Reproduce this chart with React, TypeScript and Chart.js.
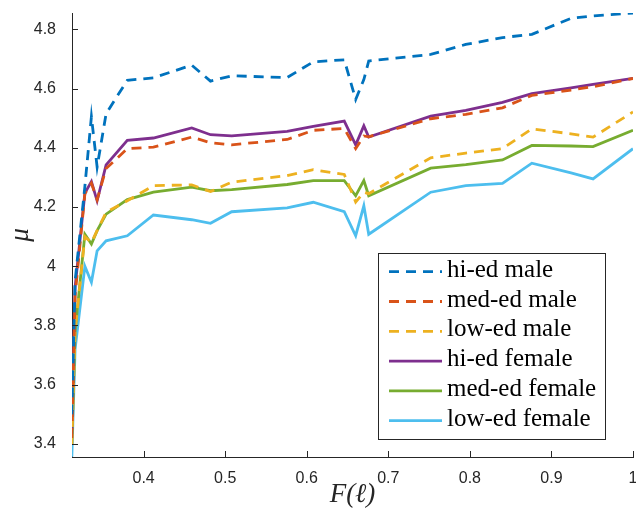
import React, { useEffect, useRef } from "react";
import { Chart, registerables } from "chart.js";

Chart.register(...registerables);

// x positions F(l)
const xValues = [0.312, 0.316, 0.328, 0.336, 0.343, 0.354, 0.38, 0.412, 0.459, 0.482, 0.508, 0.576, 0.608, 0.646, 0.66, 0.67, 0.676, 0.752, 0.795, 0.84, 0.876, 0.924, 0.951, 1.0];

const hiEdMale = [3.5, 3.95, 4.27, 4.505, 4.335, 4.515, 4.628, 4.636, 4.679, 4.625, 4.643, 4.637, 4.69, 4.697, 4.563, 4.63, 4.693, 4.715, 4.749, 4.772, 4.783, 4.837, 4.845, 4.855];
const medEdMale = [3.42, 3.9, 4.245, 4.28, 4.225, 4.33, 4.397, 4.402, 4.436, 4.417, 4.41, 4.428, 4.459, 4.465, 4.397, 4.44, 4.437, 4.498, 4.513, 4.535, 4.577, 4.595, 4.606, 4.634];
const lowEdMale = [3.4, 3.78, 4.1, 4.08, 4.12, 4.182, 4.221, 4.272, 4.275, 4.252, 4.284, 4.306, 4.326, 4.31, 4.217, 4.25, 4.245, 4.366, 4.382, 4.397, 4.464, 4.447, 4.436, 4.521];
const hiEdFemale = [3.45, 3.93, 4.247, 4.286, 4.221, 4.342, 4.425, 4.433, 4.467, 4.444, 4.44, 4.455, 4.472, 4.49, 4.41, 4.474, 4.436, 4.507, 4.526, 4.553, 4.583, 4.602, 4.614, 4.634];
const medEdFemale = [3.4, 3.78, 4.108, 4.075, 4.12, 4.176, 4.225, 4.25, 4.267, 4.255, 4.259, 4.276, 4.289, 4.289, 4.238, 4.289, 4.238, 4.331, 4.343, 4.359, 4.408, 4.406, 4.404, 4.459];
const lowEdFemale = [3.357, 3.72, 4.0, 3.946, 4.052, 4.086, 4.103, 4.173, 4.157, 4.145, 4.184, 4.197, 4.216, 4.184, 4.103, 4.204, 4.108, 4.25, 4.272, 4.28, 4.348, 4.315, 4.295, 4.397];

const seriesLabels = ["hi-ed male", "med-ed male", "low-ed male", "hi-ed female", "med-ed female", "low-ed female"];
const seriesValues = [hiEdMale, medEdMale, lowEdMale, hiEdFemale, medEdFemale, lowEdFemale];
const seriesColors = ["#0072BD", "#D95319", "#EDB120", "#7E2F8E", "#77AC30", "#4DBEEE"];
const seriesDashed = [true, true, true, false, false, false];

const xTickValues = [0.4, 0.5, 0.6, 0.7, 0.8, 0.9, 1];
const yTickValues = [3.4, 3.6, 3.8, 4, 4.2, 4.4, 4.6, 4.8];

const xTitle = "F(\u2113)";
const yTitle = "\u03BC";

const AXIS_COLOR = "#262626";
const DASH = [10, 7];

const overlayPlugin = {
  id: "overlay",
  afterDatasetsDraw(chart: any) {
    const { ctx, chartArea, scales } = chart;
    const xs = scales.x;
    const ys = scales.y;
    ctx.save();
    // inward tick marks
    ctx.strokeStyle = AXIS_COLOR;
    ctx.lineWidth = 1;
    ctx.beginPath();
    xTickValues.forEach((v) => {
      const px = Math.round(xs.getPixelForValue(v)) + 0.5;
      ctx.moveTo(px, chartArea.bottom);
      ctx.lineTo(px, chartArea.bottom - 6);
    });
    yTickValues.forEach((v) => {
      const py = Math.round(ys.getPixelForValue(v)) + 0.5;
      ctx.moveTo(chartArea.left, py);
      ctx.lineTo(chartArea.left + 6, py);
    });
    ctx.stroke();

    // legend box
    const bx = 378.5, by = 253.5, bw = 227, bh = 186;
    ctx.fillStyle = "#ffffff";
    ctx.fillRect(bx, by, bw, bh);
    ctx.strokeStyle = AXIS_COLOR;
    ctx.lineWidth = 1;
    ctx.strokeRect(bx, by, bw, bh);
    const rowStart = 271.7;
    const rowStep = 29.8;
    chart.data.datasets.forEach((ds: any, i: number) => {
      const y = rowStart + i * rowStep;
      ctx.beginPath();
      ctx.strokeStyle = ds.borderColor;
      ctx.lineWidth = ds.borderWidth;
      ctx.setLineDash(ds.borderDash || []);
      ctx.moveTo(389, y);
      ctx.lineTo(442, y);
      ctx.stroke();
      ctx.setLineDash([]);
      ctx.fillStyle = "#000000";
      ctx.font = "25px 'Liberation Serif'";
      ctx.textAlign = "left";
      ctx.textBaseline = "alphabetic";
      ctx.fillText(ds.label, 447, y + 5);
    });

    // axis titles
    ctx.fillStyle = AXIS_COLOR;
    ctx.font = "italic 27px 'Liberation Serif'";
    ctx.textAlign = "center";
    ctx.textBaseline = "middle";
    ctx.fillText(xTitle, (chartArea.left + chartArea.right) / 2, 495);
    ctx.save();
    ctx.translate(21, (chartArea.top + chartArea.bottom) / 2);
    ctx.rotate(-Math.PI / 2);
    ctx.font = "italic 27px 'Liberation Serif'";
    ctx.fillText(yTitle, 0, 0);
    ctx.restore();
    ctx.restore();
  },
};

export default function App() {
  const ref = useRef<HTMLCanvasElement>(null);
  useEffect(() => {
    document.body.style.margin = "0";
    const datasets = seriesLabels.map((label, i) => ({
      label,
      data: xValues.map((x, j) => ({ x, y: seriesValues[i][j] })),
      borderColor: seriesColors[i],
      backgroundColor: seriesColors[i],
      borderWidth: 2.8,
      borderDash: seriesDashed[i] ? DASH : [],
      borderCapStyle: "butt",
      borderJoinStyle: "miter",
      pointRadius: 0,
      tension: 0,
      fill: false,
    }));
    const chart = new Chart(ref.current!, {
      type: "line",
      data: { datasets } as any,
      options: {
        responsive: false,
        animation: false,
        devicePixelRatio: 1,
        layout: { padding: { top: 13, right: 3, left: 0, bottom: 0 } },
        plugins: { legend: { display: false }, tooltip: { enabled: false } },
        scales: {
          x: {
            type: "linear",
            min: 0.3122,
            max: 1,
            afterBuildTicks: (s: any) => {
              s.ticks = xTickValues.map((v) => ({ value: v }));
            },
            afterFit: (s: any) => {
              s.height = 60;
              s.paddingLeft = 0;
              s.paddingRight = 0;
            },
            grid: { display: false },
            border: { display: true, color: AXIS_COLOR, width: 1 },
            ticks: {
              padding: 4,
              color: AXIS_COLOR,
              font: { family: "'Liberation Sans'", size: 16 },
              maxRotation: 0,
              autoSkip: false,
              callback: (v: any) => String(v),
            },
          },
          y: {
            type: "linear",
            min: 3.356,
            max: 4.855,
            afterBuildTicks: (s: any) => {
              s.ticks = yTickValues.map((v) => ({ value: v }));
            },
            afterFit: (s: any) => {
              s.width = 72;
              s.paddingTop = 0;
              s.paddingBottom = 0;
            },
            grid: { display: false },
            border: { display: true, color: AXIS_COLOR, width: 1 },
            ticks: {
              padding: 8,
              color: AXIS_COLOR,
              font: { family: "'Liberation Sans'", size: 16 },
              autoSkip: false,
              callback: (v: any) => String(v),
            },
          },
        },
      } as any,
      plugins: [overlayPlugin],
    });
    return () => chart.destroy();
  }, []);
  return (
    <div style={{ position: "absolute", left: 0, top: 0 }}>
      <canvas ref={ref} width={636} height={517} style={{ display: "block", width: 636, height: 517 }} />
    </div>
  );
}
